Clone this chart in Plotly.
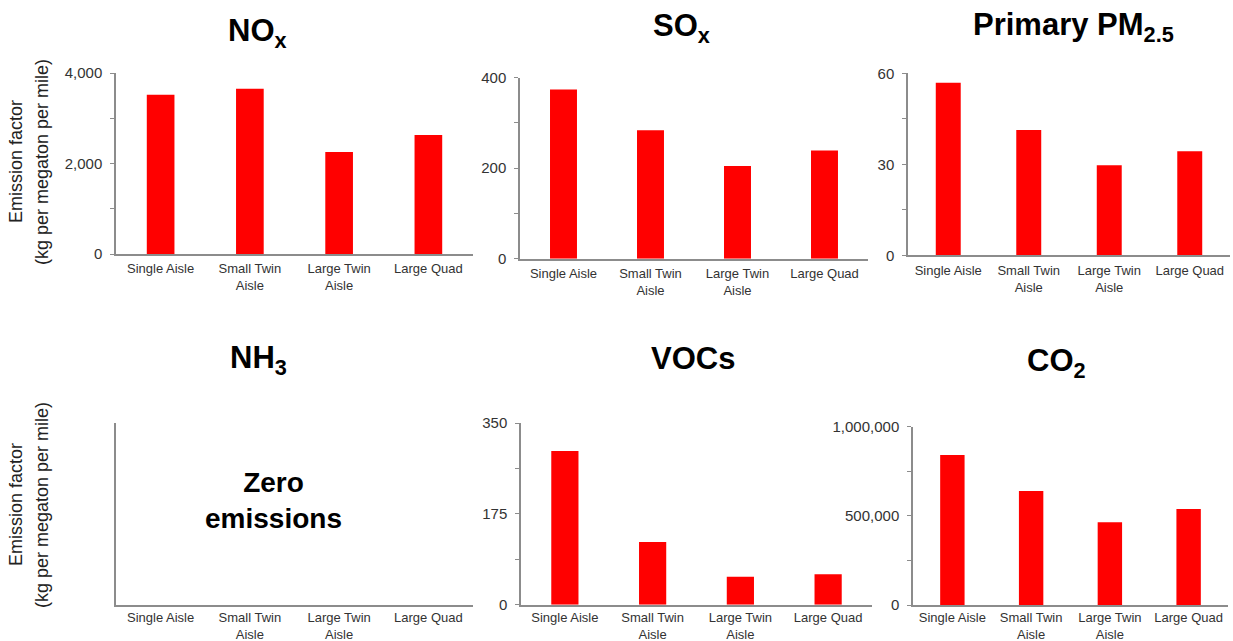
import plotly.graph_objects as go

W, H = 1233, 641

categories = ["Single Aisle", "Small Twin<br>Aisle", "Large Twin<br>Aisle", "Large Quad"]
nox = [3520, 3650, 2255, 2630]
sox = [374, 284, 205, 239]
pm25 = [56.9, 41.3, 29.7, 34.3]
nh3 = [0, 0, 0, 0]
vocs = [296, 121, 54, 58.5]
co2 = [841000, 639000, 464000, 538000]

titles = ["<b>NO<sub>x</sub></b>", "<b>SO<sub>x</sub></b>", "<b>Primary PM<sub>2.5</sub></b>",
          "<b>NH<sub>3</sub></b>", "<b>VOCs</b>", "<b>CO<sub>2</sub></b>"]
series = [nox, sox, pm25, nh3, vocs, co2]
ranges = [4000, 400, 60, 1, 350, 1000000]
dticks = [2000, 200, 30, None, 175, 500000]

# panel pixel boxes: x0, x1, ytop, ybottom
boxes = [(116, 473, 73, 254), (520, 868, 77.7, 258.7), (908, 1230, 73.3, 255.3),
         (116, 473, 422.7, 605), (521, 872, 423, 604.7), (913, 1228, 426.7, 605)]
title_pos = [(257, 33), (681, 28), (1073, 27), (258, 360), (693, 358), (1056, 363)]

FONT = "Liberation Sans, Arial, sans-serif"
AX = "#8c8c8c"

fig = go.Figure()
layout = dict(width=W, height=H, margin=dict(l=0, r=0, t=0, b=0, autoexpand=False),
              paper_bgcolor="white", plot_bgcolor="white", showlegend=False,
              font=dict(family=FONT, color="#222"), bargap=0.69)
annotations = []

for i, (vals, box) in enumerate(zip(series, boxes)):
    n = i + 1
    xa = "x" if n == 1 else f"x{n}"
    ya = "y" if n == 1 else f"y{n}"
    fig.add_trace(go.Bar(x=categories, y=vals, xaxis=xa, yaxis=ya,
                         marker=dict(color="#ff0000", line=dict(width=0)),
                         hoverinfo="x+y"))
    x0, x1, yt, yb = box
    xkey = "xaxis" if n == 1 else f"xaxis{n}"
    ykey = "yaxis" if n == 1 else f"yaxis{n}"
    layout[xkey] = dict(domain=[x0 / W, x1 / W], anchor=ya, showline=True, linecolor=AX,
                        linewidth=1.5, ticks="", showgrid=False, zeroline=False,
                        tickfont=dict(size=13, color="#333"), fixedrange=True,
                        type="category", automargin=False,
                        ticklabelstandoff=2 if i < 3 else 0)
    yaxis = dict(domain=[1 - yb / H, 1 - yt / H], anchor=xa, range=[0, ranges[i]],
                 showline=True, linecolor=AX, linewidth=1.5, showgrid=False, zeroline=False,
                 fixedrange=True, tickfont=dict(size=15, color="#333"), automargin=False,
                 ticklabelstandoff=5)
    if dticks[i] is None:
        yaxis.update(showticklabels=False, ticks="")
    else:
        yaxis.update(tick0=0, dtick=dticks[i], ticks="outside", ticklen=4, tickcolor=AX,
                     tickformat=",d" if ranges[i] >= 1000 else "",
                     minor=dict(dtick=dticks[i] / 2, ticks="outside", ticklen=4, tickcolor=AX))
    layout[ykey] = yaxis
    tx, ty = title_pos[i]
    annotations.append(dict(text=titles[i], x=tx / W, y=1 - ty / H, xref="paper", yref="paper",
                            showarrow=False, xanchor="center", yanchor="middle",
                            font=dict(size=31, color="black", family=FONT)))

for cy in (162, 505):
    for txt, cx in (("Emission factor", 16), ("(kg per megaton per mile)", 42)):
        annotations.append(dict(text=txt, textangle=-90,
                                x=cx / W, y=1 - cy / H, xref="paper", yref="paper",
                                showarrow=False, xanchor="center", yanchor="middle",
                                font=dict(size=18, color="#222", family=FONT)))

annotations.append(dict(text="<b>Zero<br>emissions</b>", x=273 / W, y=1 - 500 / H,
                        xref="paper", yref="paper", showarrow=False,
                        xanchor="center", yanchor="middle",
                        font=dict(size=28, color="black", family=FONT)))

layout["annotations"] = annotations
fig.update_layout(**layout)
fig.write_html("out.html", config={"displayModeBar": False},
               post_script="document.body.style.margin='0';document.body.style.padding='0';")
